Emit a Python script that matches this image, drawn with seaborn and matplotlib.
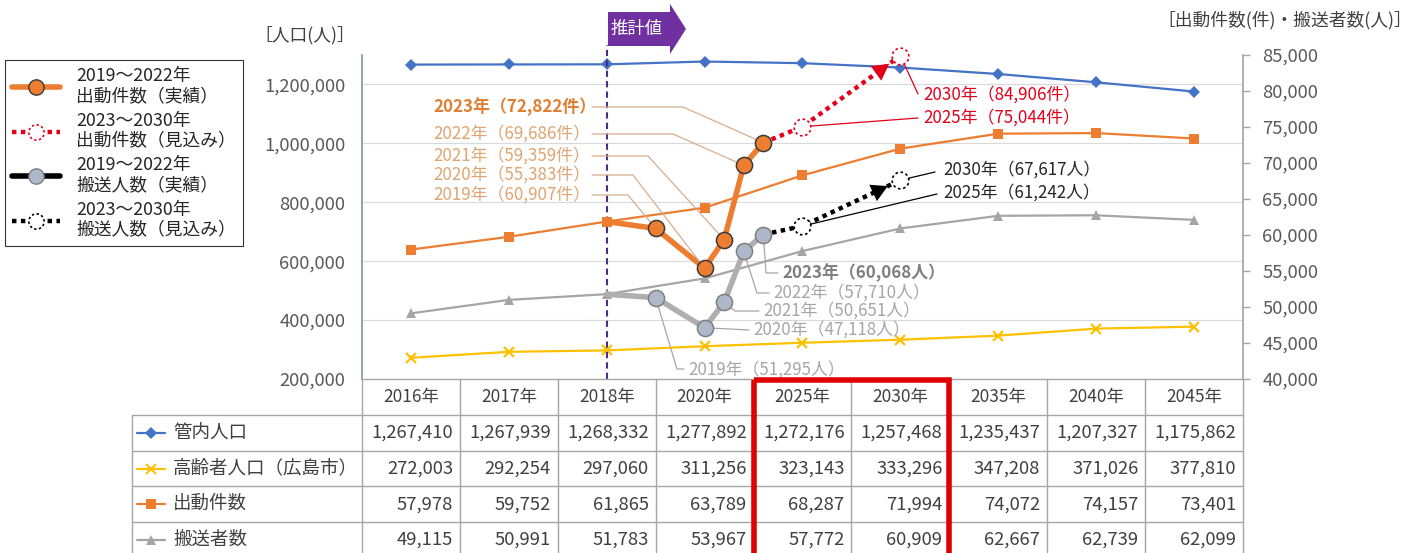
import numpy as np
import matplotlib.pyplot as plt
import seaborn as sns
from matplotlib.lines import Line2D
from matplotlib.path import Path
from matplotlib.patches import Polygon, Rectangle

# データ（表の値）
categories = ['2016年', '2017年', '2018年', '2020年', '2025年', '2030年', '2035年', '2040年', '2045年']
cat_years = [2016, 2017, 2018, 2020, 2025, 2030, 2035, 2040, 2045]
population = [1267410, 1267939, 1268332, 1277892, 1272176, 1257468, 1235437, 1207327, 1175862]
elderly = [272003, 292254, 297060, 311256, 323143, 333296, 347208, 371026, 377810]
dispatch = [57978, 59752, 61865, 63789, 68287, 71994, 74072, 74157, 73401]
transport = [49115, 50991, 51783, 53967, 57772, 60909, 62667, 62739, 62099]
row_names = ['管内人口', '高齢者人口（広島市）', '出動件数', '搬送者数']

# 実績と見込み
actual_years = [2019, 2020, 2021, 2022, 2023]
actual_dispatch = [60907, 55383, 59359, 69686, 72822]
actual_transport = [51295, 47118, 50651, 57710, 60068]
proj_years = [2025, 2030]
proj_dispatch = [75044, 84906]
proj_transport = [61242, 67617]

BLUE, YELLOW, ORANGE, GRAY = '#4472C4', '#FFC000', '#ED7D31', '#A5A5A5'
RED = '#E3001B'
TXT = '#404040'

sns.set_theme(style='white')
plt.rcParams['font.family'] = ['Noto Sans CJK JP', 'DejaVu Sans']

W, H = 1425, 553
fig = plt.figure(figsize=(W / 100, H / 100), dpi=100)
ax = fig.add_axes([362 / W, 1 - 379 / H, 881 / W, 324 / H])
ax2 = ax.twinx()


def xpos(years):
    # 年 -> カテゴリ軸上の位置
    return np.interp(years, cat_years, np.arange(len(cat_years))) + 0.5


def pix(px, py):
    # 画像上の位置 -> ax2 のデータ座標
    return ((px - 362) / 881 * 9, 40000 + (379 - py) / 324 * 45000)


# 点線の丸マーカー
verts, codes = [], []
for k in range(10):
    t = np.linspace(2 * np.pi * k / 10, 2 * np.pi * (k + 0.5) / 10, 4)
    verts += list(zip(np.cos(t), np.sin(t)))
    codes += [Path.MOVETO] + [Path.LINETO] * 3
dash_circle = Path(verts, codes)
dotted = (0, (1, 1))

x_cat = xpos(cat_years)

# 人口（左軸）
sns.lineplot(x=x_cat, y=population, ax=ax, color=BLUE, lw=1.6, marker='D', ms=6.5,
             mec=BLUE, mew=0, errorbar=None)
sns.lineplot(x=x_cat, y=elderly, ax=ax, color=YELLOW, lw=1.6, marker='x', ms=7,
             mec=YELLOW, mew=1.6, errorbar=None)

# 出動件数・搬送者数（右軸）
sns.lineplot(x=x_cat, y=dispatch, ax=ax2, color=ORANGE, lw=1.6, marker='s', ms=6.5,
             mec=ORANGE, mew=0, errorbar=None)
sns.lineplot(x=x_cat, y=transport, ax=ax2, color=GRAY, lw=1.6, marker='^', ms=7,
             mec=GRAY, mew=0, errorbar=None)

# 実績（太線）
sns.lineplot(x=xpos([2018] + actual_years), y=[dispatch[2]] + actual_dispatch, ax=ax2,
             color=ORANGE, lw=4, errorbar=None, sort=False)
sns.lineplot(x=xpos([2018] + actual_years), y=[transport[2]] + actual_transport, ax=ax2,
             color='#AFAFAF', lw=4, errorbar=None, sort=False)
sns.scatterplot(x=xpos(actual_years), y=actual_dispatch, ax=ax2, color=ORANGE, s=135,
                edgecolor='#3A3A3A', linewidth=1.1, zorder=6)
sns.scatterplot(x=xpos(actual_years), y=actual_transport, ax=ax2, color='#ADB9CA', s=135,
                edgecolor='#7F7F7F', linewidth=1.1, zorder=6)

# 見込み（点線）
for vals, last, col in [(proj_dispatch, actual_dispatch[-1], RED),
                        (proj_transport, actual_transport[-1], 'black')]:
    xs = xpos([2023] + proj_years)
    sns.lineplot(x=xs, y=[last] + vals, ax=ax2, color=col, lw=3.2, ls=dotted,
                 errorbar=None, sort=False)
    ax2.annotate('', xy=(xs[-1], vals[-1]), xytext=(xs[-2], vals[-2]),
                 arrowprops=dict(arrowstyle='-|>,head_length=0.9,head_width=0.5', color=col,
                                 lw=0, shrinkA=0, shrinkB=10, mutation_scale=13), zorder=5)
    ax2.plot(xs[1:], vals, ls='none', marker='o', ms=12, mfc='white', mec='none', zorder=6,
             clip_on=False)
    ax2.plot(xs[1:], vals, ls='none', marker=dash_circle, ms=12, mfc='none', mec=col,
             mew=1.2, zorder=7, clip_on=False)

# 推計値の区切り
ax.plot([xpos([2018])[0]] * 2, [0, 1.031], transform=ax.get_xaxis_transform(),
        color='#4B2E83', lw=1.5, ls=(0, (3, 2)), clip_on=False, zorder=4)
arrow = Polygon([(608 / W, 1 - 12 / H), (670 / W, 1 - 12 / H), (670 / W, 1 - 4 / H),
                 (686 / W, 1 - 29 / H), (670 / W, 1 - 54 / H), (670 / W, 1 - 46 / H),
                 (608 / W, 1 - 46 / H)], closed=True, transform=fig.transFigure,
                facecolor='#7030A0', edgecolor='none')
fig.add_artist(arrow)
fig.text(637 / W, 1 - 29 / H, '推計値', color='white', fontsize=12.5, ha='center', va='center')

# 吹き出しラベル
lab_fs = 12.2
orange_pos = {2023: (107, 683), 2022: (134, 673), 2021: (156, 648), 2020: (175, 633), 2019: (195, 628)}
for yr, val in zip(actual_years, actual_dispatch):
    y, ex = orange_pos[yr]
    bold = yr == 2023
    ax2.text(*pix(433, y), f'{yr}年（{val:,}件）', ha='left', va='center', fontsize=lab_fs,
             color='#E07F32' if bold else '#DFA571', fontweight='bold' if bold else 'normal')
    p0, p1 = pix(592, y), pix(ex, y)
    ax2.plot([p0[0], p1[0], xpos([yr])[0]], [p0[1], p1[1], val], color='#D5AE8E', lw=0.9,
             zorder=3)

gray_pos = {2023: (782, 273, [(766, 273), (778, 273)]),
            2022: (773, 293, [(757, 293), (769, 293)]),
            2021: (763, 311, [(735, 311), (759, 311)]),
            2020: (753, 330, [(749, 330)]),
            2019: (688, 370, [(677, 369), (684, 369)])}
for yr, val in zip(actual_years, actual_transport):
    tx, ty, path = gray_pos[yr]
    bold = yr == 2023
    ax2.text(*pix(tx, ty), f'{yr}年（{val:,}人）', ha='left', va='center', fontsize=lab_fs,
             color='#7F7F7F' if bold else '#A6A6A6', fontweight='bold' if bold else 'normal')
    pts = [pix(*p) for p in path]
    ax2.plot([xpos([yr])[0]] + [p[0] for p in pts], [val] + [p[1] for p in pts],
             color='#A6A6A6', lw=0.9, zorder=3)

proj_pos = [(proj_dispatch, '件', RED, RED, {2030: (923, 95, (918, 94)), 2025: (923, 118, (918, 118))}),
            (proj_transport, '人', '#262626', 'black', {2030: (943, 170, (935, 172)), 2025: (943, 193, (937, 194))})]
for vals, unit, tcol, lcol, pos in proj_pos:
    for yr, val in zip(proj_years, vals):
        tx, ty, end = pos[yr]
        ax2.text(*pix(tx, ty), f'{yr}年（{val:,}{unit}）', ha='left', va='center',
                 fontsize=lab_fs, color=tcol)
        e = pix(*end)
        ax2.plot([xpos([yr])[0], e[0]], [val, e[1]], color=lcol, lw=0.9, zorder=3)

# 軸
ax.set_xlim(0, 9)
ax.set_ylim(200000, 1300000)
ax.set_yticks(range(200000, 1200001, 200000))
ax.set_yticklabels([f'{v:,}' for v in range(200000, 1200001, 200000)])
ax.set_xticks([])
ax.grid(axis='y', color='#D9D9D9', lw=0.8)
ax.set_axisbelow(True)
ax.tick_params(axis='y', length=0, pad=12, labelsize=13.3, labelcolor='#595959')
ax2.set_ylim(40000, 85000)
ax2.set_yticks(range(40000, 85001, 5000))
ax2.set_yticklabels([f'{v:,}' for v in range(40000, 85001, 5000)])
ax2.tick_params(axis='y', right=True, length=5, pad=9, color='#A6A6A6', labelsize=13.3,
                labelcolor='#595959', width=1)
ax2.set_xlim(0, 9)
for a in (ax, ax2):
    a.set_xlabel('')
    a.set_ylabel('')
    for s in a.spines.values():
        s.set_visible(False)
ax.spines['left'].set_visible(True)
ax.spines['left'].set_color('#8497B0')
ax2.spines['right'].set_visible(True)
ax2.spines['right'].set_color('#A6A6A6')

fig.text(305 / W, 1 - 35 / H, '［人口(人)］', ha='center', va='center', fontsize=12.8, color=TXT)
fig.text(1412 / W, 1 - 20 / H, '［出動件数(件)・搬送者数(人)］', ha='right', va='center',
         fontsize=12.8, color=TXT)

# データテーブル
tax = fig.add_axes([362 / W, 0, 881 / W, 174 / H])
tax.set_xlim(0, 9)
tax.set_ylim(174 / 35.8, 0)
tax.axis('off')
gc = '#A6A6A6'
tax.plot([0, 9], [0, 0], color=gc, lw=1, clip_on=False)
for r in range(1, 5):
    tax.plot([-2.35, 9], [r, r], color=gc, lw=1, clip_on=False)
for c in range(10):
    tax.plot([c, c], [0, 5.5], color=gc, lw=1, clip_on=False)
tax.plot([-2.35, -2.35], [1, 5.5], color=gc, lw=1, clip_on=False)
for i, cat in enumerate(categories):
    tax.text(i + 0.5, 0.5, cat, ha='center', va='center', fontsize=12.5, color=TXT)
styles = [(BLUE, 'D', 0), (YELLOW, 'x', 1.5), (ORANGE, 's', 0), (GRAY, '^', 0)]
for r, (name, vals, (col, mk, mw)) in enumerate(zip(row_names, [population, elderly, dispatch, transport], styles)):
    yc = r + 1.5
    tax.plot([-2.30, -2.01], [yc, yc], color=col, lw=1.6, clip_on=False)
    tax.plot([-2.155], [yc], marker=mk, ms=6.5, color=col, mew=mw, clip_on=False)
    tax.text(-1.93, yc, name, ha='left', va='center', fontsize=13.3, color=TXT)
    for i, v in enumerate(vals):
        tax.text(i + 0.93, yc, f'{v:,}', ha='right', va='center', fontsize=13.3, color=TXT)
tax.add_patch(Rectangle((4, 0.03), 2, 5.5, fill=False, ec='#E00000', lw=4, clip_on=False,
                        zorder=10))

# 凡例
h1 = Line2D([], [], color=ORANGE, lw=4, marker='o', ms=11, mfc=ORANGE, mec='#3A3A3A', mew=1)
h2 = (Line2D([], [], color=RED, lw=3.2, ls=dotted, marker='o', ms=11, mfc='white', mec='white'),
      Line2D([], [], ls='none', marker=dash_circle, ms=11, mfc='none', mec=RED, mew=1.2))
h3 = Line2D([], [], color='black', lw=4, marker='o', ms=11, mfc='#ADB9CA', mec='#7F7F7F', mew=1)
h4 = (Line2D([], [], color='black', lw=3.2, ls=dotted, marker='o', ms=11, mfc='white', mec='white'),
      Line2D([], [], ls='none', marker=dash_circle, ms=11, mfc='none', mec='black', mew=1.2))
labels = ['2019～2022年\n出動件数（実績）', '2023～2030年\n出動件数（見込み）',
          '2019～2022年\n搬送人数（実績）', '2023～2030年\n搬送人数（見込み）']
leg = fig.legend([h1, h2, h3, h4], labels, loc='upper left', bbox_to_anchor=(5 / W, 1 - 60 / H),
                 borderaxespad=0, fontsize=12.8, handlelength=2.7, handletextpad=0.9,
                 labelspacing=0.32, borderpad=0.4, fancybox=False, frameon=True)
leg.get_frame().set_edgecolor('black')
leg.get_frame().set_linewidth(0.8)
for t in leg.get_texts():
    t.set_color('#262626')

fig.savefig('out.png', dpi=100)
